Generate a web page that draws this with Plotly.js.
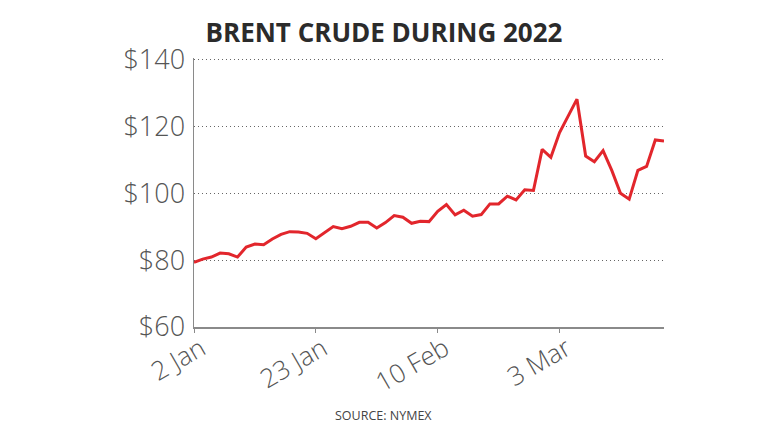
<!DOCTYPE html>
<html>
<head>
<meta charset="utf-8">
<script src="https://cdn.plot.ly/plotly-3.0.1.min.js"></script>
<style>html,body{margin:0;padding:0;background:#fff;}#chart{width:768px;height:432px;}</style>
</head>
<body>
<div id="chart"></div>
<script>
// Brent crude price (USD/barrel), trading-day index from 2 Jan 2022
const pointIndex = [0,1,2,3,4,5,6,7,8,9,10,11,12,13,14,15,16,17,18,19,20,21,22,23,24,25,26,27,28,29,30,31,32,33,34,35,36,37,38,39,40,41,42,43,44,45,46,47,48,49,50,51,52,53,54];
const brentPrice = [79.3,80.3,80.9,82.1,81.9,80.9,83.9,84.8,84.6,86.3,87.7,88.5,88.4,88.0,86.4,88.3,90.0,89.4,90.1,91.3,91.3,89.6,91.2,93.3,92.8,91.0,91.6,91.5,94.6,96.6,93.5,94.9,93.1,93.6,96.8,96.8,99.1,98.0,101.0,100.8,113.1,110.7,118.1,123.1,128.1,111.1,109.4,112.7,106.8,100.0,98.2,106.8,108.0,115.9,115.6];
const tickPositions = [0,14,28,42];
const tickLabels = ["2 Jan","23 Jan","10 Feb","3 Mar"];
const yTickValues = [60,80,100,120,140];
const yTickLabels = ["$60","$80","$100","$120","$140"];

const trace = {
  x: pointIndex, y: brentPrice, type: 'scatter', mode: 'lines',
  line: {color: '#e2262c', width: 3}, hoverinfo: 'skip'
};
const layout = {
  width: 768, height: 432,
  margin: {l: 194, r: 104, t: 58, b: 105},
  paper_bgcolor: '#ffffff', plot_bgcolor: '#ffffff',
  showlegend: false,
  title: {text: '<b>BRENT CRUDE DURING 2022</b>', x: 0.5, xanchor: 'center', y: 0.925, yanchor: 'middle',
          font: {family: 'Open Sans, sans-serif', size: 26, color: '#2b2b2b'}},
  xaxis: {
    range: [0, 54], tickmode: 'array', tickvals: tickPositions, ticktext: tickLabels,
    tickangle: -30, showgrid: false, zeroline: false,
    showline: true, linecolor: '#8a8a8a', linewidth: 1.5,
    ticks: 'outside', ticklen: 4, tickcolor: '#8a8a8a', ticklabelstandoff: -9, ticklabelshift: 7,
    tickfont: {family: 'Open Sans, sans-serif', size: 26, color: '#555555', weight: 300}
  },
  yaxis: {
    range: [60, 140.4], tickmode: 'array', tickvals: yTickValues, ticktext: yTickLabels,
    showgrid: true, gridcolor: '#666666', griddash: '1px,3px', gridwidth: 1,
    zeroline: false, showline: true, linecolor: '#8a8a8a', linewidth: 1.5,
    ticks: '', ticklabelstandoff: 2,
    tickfont: {family: 'Open Sans, sans-serif', size: 27, color: '#555555', weight: 300}
  },
  annotations: [{
    text: 'SOURCE: NYMEX', xref: 'paper', yref: 'paper', x: 0.404, y: -0.33, xanchor: 'center', yanchor: 'middle',
    showarrow: false, font: {family: 'Open Sans, sans-serif', size: 12.5, color: '#444444'}
  }]
};
Plotly.newPlot('chart', [trace], layout, {staticPlot: true, displayModeBar: false});
</script>
</body>
</html>
